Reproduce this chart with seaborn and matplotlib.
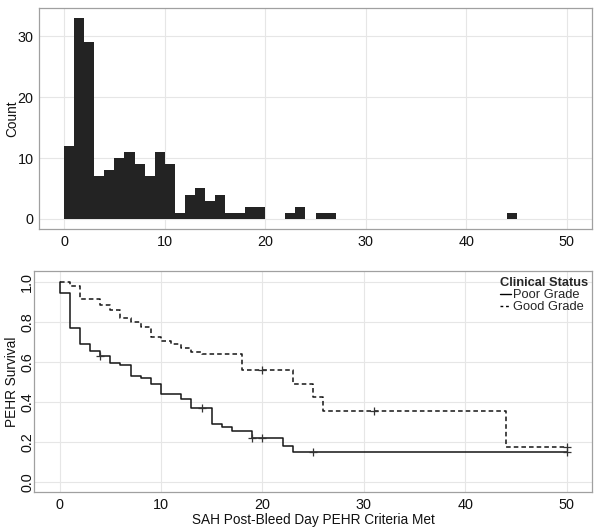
import numpy as np
import pandas as pd
import matplotlib
matplotlib.use("Agg")
import matplotlib.pyplot as plt
import seaborn as sns
from matplotlib.lines import Line2D

# ---------------- data ----------------
hist_day = [0, 1, 2, 3, 4, 5, 6, 7, 8, 9, 10, 11, 12, 13, 14, 15, 16, 17, 18, 19, 22, 23, 25, 26, 44]
hist_count = [12, 33, 29, 7, 8, 10, 11, 9, 7, 11, 9, 1, 4, 5, 3, 4, 1, 1, 2, 2, 1, 2, 1, 1, 1]

poor_time = [0, 0, 1, 2, 3, 4, 5, 6, 7, 8, 9, 10, 12, 13, 15, 16, 17, 19, 22, 23, 50]
poor_surv = [1.0, 0.942, 0.768, 0.689, 0.656, 0.631, 0.596, 0.583, 0.531, 0.521, 0.488,
             0.440, 0.415, 0.369, 0.290, 0.272, 0.256, 0.219, 0.182, 0.148, 0.148]
poor_censor = [4, 14, 19, 20, 25, 50]

good_time = [0, 1, 2, 4, 5, 6, 7, 8, 9, 10, 11, 12, 13, 14, 18, 23, 25, 26, 44, 50]
good_surv = [1.0, 0.980, 0.912, 0.882, 0.857, 0.817, 0.800, 0.771, 0.726, 0.704, 0.688,
             0.667, 0.650, 0.637, 0.561, 0.490, 0.424, 0.352, 0.174, 0.174]
good_censor = [20, 31, 50]

groups = ["Poor Grade", "Good Grade"]

# ---------------- style ----------------
sns.set_style("white")
plt.rcParams["font.family"] = ["Liberation Sans", "DejaVu Sans"]
plt.rcParams["axes.linewidth"] = 0.9

fig = plt.figure(figsize=(6.0, 5.3), dpi=100)
ax1 = fig.add_axes([0.065, 0.568, 0.9217, 0.417])
ax2 = fig.add_axes([0.057, 0.0717, 0.9300, 0.417])

tick_col = "#111111"
grid_col = "#e6e6e6"

def style_axes(ax):
    ax.grid(True, color=grid_col, linewidth=0.8)
    ax.set_axisbelow(True)
    for s in ax.spines.values():
        s.set_color("#a0a0a0")
        s.set_visible(True)
    ax.tick_params(axis="both", which="major", length=3, width=0.8, color="#555555",
                   labelsize=10.4, labelcolor=tick_col, direction="out", pad=1)

# ---------------- histogram ----------------
hist_df = pd.DataFrame({"day": np.array(hist_day, dtype=float) + 0.5,
                        "count": np.array(hist_count, dtype=float)})
sns.histplot(data=hist_df, x="day", weights="count", binwidth=1, binrange=(0, 45),
             color="#232323", alpha=1.0, linewidth=0, ax=ax1)
ax1.set_xlim(-2.5, 52.5)
ax1.set_ylim(-1.65, 34.65)
ax1.set_xticks([0, 10, 20, 30, 40, 50])
ax1.set_yticks([0, 10, 20, 30])
ax1.set_xlabel("")
ax1.set_ylabel("Count", fontsize=9.8, color=tick_col)
style_axes(ax1)
ax1.yaxis.set_label_coords(-0.036, 0.5)

# ---------------- survival curves ----------------
surv_df = pd.concat([
    pd.DataFrame({"time": poor_time, "surv": poor_surv, "Clinical Status": groups[0]}),
    pd.DataFrame({"time": good_time, "surv": good_surv, "Clinical Status": groups[1]}),
], ignore_index=True)

sns.lineplot(data=surv_df, x="time", y="surv", style="Clinical Status",
             style_order=groups, dashes={groups[0]: "", groups[1]: (3, 2)},
             color="#151515", linewidth=1.1, drawstyle="steps-post",
             estimator=None, sort=False, legend=False, ax=ax2)

def step_value(times, survs, t):
    times = np.asarray(times)
    idx = np.searchsorted(times, t, side="right") - 1
    return np.asarray(survs)[idx]

cens_df = pd.DataFrame({
    "time": poor_censor + good_censor,
    "surv": [step_value(poor_time, poor_surv, t) for t in poor_censor]
            + [step_value(good_time, good_surv, t) for t in good_censor],
})
sns.scatterplot(data=cens_df, x="time", y="surv", marker="+", s=28, color="#333333",
                linewidth=0.9, legend=False, ax=ax2, zorder=5)

ax2.set_xlim(-2.5, 52.5)
ax2.set_ylim(-0.05, 1.053)
ax2.set_xticks([0, 10, 20, 30, 40, 50])
ax2.set_yticks([0.0, 0.2, 0.4, 0.6, 0.8, 1.0])
ax2.set_yticklabels(["0.0", "0.2", "0.4", "0.6", "0.8", "1.0"], rotation=90, va="center")
ax2.set_xlabel("SAH Post-Bleed Day PEHR Criteria Met", fontsize=9.8, color=tick_col, labelpad=1)
ax2.set_ylabel("PEHR Survival", fontsize=9.8, color=tick_col)
style_axes(ax2)
ax2.tick_params(axis="y", pad=-3)
ax2.yaxis.set_label_coords(-0.027, 0.5)

handles = [Line2D([], [], color="black", linewidth=1.0, linestyle="-"),
           Line2D([], [], color="black", linewidth=1.0, linestyle=(0, (2, 2)))]
leg = ax2.legend(handles, groups, title="Clinical Status", loc="upper right",
                 bbox_to_anchor=(1.0, 0.99), frameon=False, fontsize=9.3,
                 title_fontproperties={"weight": "bold", "size": 9.3},
                 handlelength=0.8, handletextpad=0.2, labelspacing=0.0,
                 borderaxespad=0.2, borderpad=0.1)
leg._legend_box.align = "left"
leg._legend_box.sep = 0

fig.savefig("out.png", dpi=100, facecolor="white")
